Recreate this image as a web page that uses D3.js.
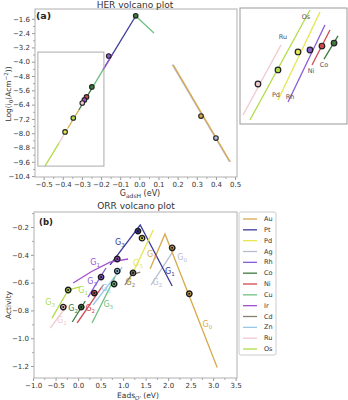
<!DOCTYPE html>
<html><head><meta charset="utf-8">
<script src="https://cdn.jsdelivr.net/npm/d3@7"></script>
<style>body{margin:0;background:#fff} text{font-family:"DejaVu Sans",sans-serif}</style>
</head><body><svg id="c" width="348" height="400"></svg>
<script>
// ---------- data ----------
const metals = ["Au","Pt","Pd","Ag","Rh","Co","Ni","Cu","Ir","Cd","Zn","Ru","Os"];
const metalColors = ["#d8a84b","#3a3a99","#e6e650","#b8bcd0","#8a5cd8","#3c7a3c","#d04850","#70c080","#a050d0","#8a8070","#9cc8e8","#f0c8d0","#b0dc48"];

const herXTicks = [-0.5,-0.4,-0.3,-0.2,-0.1,0.0,0.1,0.2,0.3,0.4,0.5];
const herYTicks = [-1.6,-2.4,-3.2,-4.0,-4.8,-5.6,-6.4,-7.2,-8.0,-8.8,-9.6,-10.4];
const orrXTicks = [-1.0,-0.5,0.0,0.5,1.0,1.5,2.0,2.5,3.0,3.5];
const orrYTicks = [-0.2,-0.4,-0.6,-0.8,-1.0,-1.2];

// HER volcano segments (G_adsH, log i0)
const herLines = [
  {m:"Os", pts:[[-0.493,-9.84],[-0.420,-8.55]]},
  {m:"Ru", pts:[[-0.420,-8.55],[-0.395,-8.10]]},
  {m:"Pd", pts:[[-0.395,-8.10],[-0.373,-7.71]]},
  {m:"Au", pts:[[-0.373,-7.71],[-0.316,-6.70]]},
  {m:"Co", pts:[[-0.316,-6.70],[-0.243,-5.41]]},
  {m:"Cu", pts:[[-0.243,-5.41],[-0.190,-4.46]]},
  {m:"Pt", pts:[[-0.190,-4.46],[-0.019,-1.44]]},
  {m:"Ir", pts:[[-0.185,-4.38],[-0.140,-3.58]]},
  {m:"Cu", pts:[[-0.019,-1.44],[0.076,-2.39]]},
  {m:"Ag", pts:[[0.172,-4.16],[0.470,-9.58]]},
  {m:"Au", pts:[[0.177,-4.18],[0.475,-9.61]]}
];
const herPoints = [
  {m:"Co", x:-0.019, y:-1.43},
  {m:"Rh", x:-0.160, y:-3.68},
  {m:"Co", x:-0.248, y:-5.41},
  {m:"Ni", x:-0.276, y:-5.97},
  {m:"Ir", x:-0.287, y:-6.14},
  {m:"Ru", x:-0.298, y:-6.31},
  {m:"Os", x:-0.345, y:-7.15},
  {m:"Pd", x:-0.388, y:-7.93},
  {m:"Au", x:0.322, y:-7.04},
  {m:"Ag", x:0.400, y:-8.27}
];
const herZoomBox = {x0:-0.53, x1:-0.185, y0:-9.84, y1:-3.46};

// Inset (zoomed view, inset units 0-100)
const insetLines = [
  {m:"Ru", pts:[[2.8,7.8],[38.3,68.1]]},
  {m:"Os", pts:[[9.3,3.4],[65.4,98.3]]},
  {m:"Pd", pts:[[35.5,20.7],[74.8,96.6]]},
  {m:"Rh", pts:[[44.9,19.0],[79.4,85.3]]},
  {m:"Ni", pts:[[67.3,50.9],[84.1,81.0]]},
  {m:"Co", pts:[[78.5,56.0],[91.6,75.9]]}
];
const insetPoints = [
  {m:"Ru", x:16.8, y:34.5}, {m:"Os", x:35.5, y:46.6}, {m:"Pd", x:54.2, y:62.1},
  {m:"Rh", x:65.4, y:63.8}, {m:"Ni", x:76.6, y:67.2}, {m:"Co", x:87.9, y:69.8}
];
const insetLabels = [
  {t:"Ru", x:40.2, y:75}, {t:"Os", x:61.7, y:92.2}, {t:"Pd", x:33.6, y:25},
  {t:"Rh", x:46.7, y:23.3}, {t:"Ni", x:66.4, y:45.7}, {t:"Co", x:78.5, y:50.9}
];

// ORR volcano (Eads, activity)
const orrLines = [
  {m:"Ag", pts:[[1.62,-0.617],[2.16,-0.35]]},
  {m:"Au", pts:[[1.6,-0.50],[1.93,-0.25],[3.09,-1.21]]},
  {m:"Pt", pts:[[0.71,-0.473],[1.38,-0.186],[2.09,-0.624]]},
  {m:"Pd", pts:[[1.11,-0.603],[1.67,-0.222]]},
  {m:"Ir", pts:[[-0.11,-0.603],[0.30,-0.52],[0.71,-0.452],[1.11,-0.430]]},
  {m:"Rh", pts:[[0.22,-0.704],[0.62,-0.495]]},
  {m:"Zn", pts:[[0.33,-0.761],[0.98,-0.488]]},
  {m:"Cu", pts:[[0.31,-0.89],[0.82,-0.56]]},
  {m:"Cd", pts:[[1.04,-0.617],[1.18,-0.545],[1.38,-0.524]]},
  {m:"Ni", pts:[[-0.02,-0.89],[0.56,-0.617]]},
  {m:"Co", pts:[[-0.13,-0.883],[0.16,-0.732]]},
  {m:"Os", pts:[[-0.58,-0.855],[-0.22,-0.653],[0.04,-0.63]]},
  {m:"Ru", pts:[[-0.62,-0.927],[-0.24,-0.761]]}
];
const orrPoints = [
  {m:"Pt", x:1.33, y:-0.229}, {m:"Pd", x:1.42, y:-0.28}, {m:"Au", x:2.09, y:-0.35},
  {m:"Au", x:2.47, y:-0.68}, {m:"Ir", x:0.87, y:-0.43}, {m:"Rh", x:0.51, y:-0.56},
  {m:"Zn", x:0.87, y:-0.517}, {m:"Cu", x:0.80, y:-0.61}, {m:"Cd", x:1.22, y:-0.53},
  {m:"Ni", x:0.36, y:-0.675}, {m:"Co", x:0.07, y:-0.776}, {m:"Os", x:-0.22, y:-0.653},
  {m:"Ru", x:-0.33, y:-0.776}
];
const orrLabels = [
  {m:"Pt", s:"3", x:0.93, y:-0.315}, {m:"Pt", s:"1", x:2.04, y:-0.524},
  {m:"Au", s:"3", x:1.64, y:-0.40}, {m:"Au", s:"0", x:2.87, y:-0.905},
  {m:"Ag", s:"2", x:1.76, y:-0.60}, {m:"Ag", s:"0", x:2.31, y:-0.423},
  {m:"Pd", s:"3", x:1.33, y:-0.46}, {m:"Ir", s:"1", x:0.38, y:-0.459},
  {m:"Rh", s:"3", x:0.31, y:-0.596}, {m:"Zn", s:"3", x:0.62, y:-0.64},
  {m:"Cu", s:"3", x:0.67, y:-0.76}, {m:"Cd", s:"2", x:1.16, y:-0.603},
  {m:"Ni", s:"2", x:0.27, y:-0.79}, {m:"Co", s:"2", x:-0.11, y:-0.79},
  {m:"Os", s:"3", x:-0.62, y:-0.747}, {m:"Os", s:"1", x:0.11, y:-0.66},
  {m:"Ru", s:"1", x:-0.36, y:-0.87}
];

// ---------- drawing ----------
const svg = d3.select("#c");
const color = d3.scaleOrdinal().domain(metals).range(metalColors);
const fmt = d => d3.format(".1f")(d).replace("-", "\u2212");
const frameCol = "#b0b0b0", tickCol = "#999", txtCol = "#333";

function styleAxis(g){
  g.select(".domain").remove();
  g.selectAll(".tick line").attr("stroke", tickCol);
  g.selectAll(".tick text").attr("fill", txtCol).attr("font-size", 7).attr("font-family","DejaVu Sans");
}

function panel(x, y, xt, yt, xminor, yminor){
  const [x0,x1] = x.range(), [y0,y1] = y.range();
  svg.append("g").attr("transform",`translate(0,${y0})`)
    .call(d3.axisBottom(x).tickValues(xt).tickSize(3).tickPadding(2).tickFormat(fmt)).call(styleAxis);
  svg.append("g").attr("transform",`translate(${x0},0)`)
    .call(d3.axisLeft(y).tickValues(yt).tickSize(3).tickPadding(2).tickFormat(fmt)).call(styleAxis);
  svg.append("g").attr("transform",`translate(0,${y0})`)
    .call(d3.axisBottom(x).tickValues(xminor).tickSize(1.8).tickFormat("")).call(styleAxis);
  svg.append("g").attr("transform",`translate(${x0},0)`)
    .call(d3.axisLeft(y).tickValues(yminor).tickSize(1.8).tickFormat("")).call(styleAxis);
  svg.append("rect").attr("x",x0).attr("y",y1).attr("width",x1-x0).attr("height",y0-y1)
    .attr("fill","none").attr("stroke",frameCol).attr("stroke-width",1);
}

// ===== Panel (a) =====
const hx = d3.scaleLinear().domain([-0.545,0.51]).range([35,237]);
const hy = d3.scaleLinear().domain([-10.45,-1.05]).range([177,9]);
panel(hx, hy, herXTicks, herYTicks,
  herXTicks.slice(0,-1).map(d=>+(d+0.05).toFixed(2)),
  herYTicks.slice(0,-1).map(d=>+(d-0.4).toFixed(2)));

const hLine = d3.line().x(d=>hx(d[0])).y(d=>hy(d[1]));
svg.append("g").selectAll("path").data(herLines).join("path")
  .attr("d", d=>hLine(d.pts)).attr("fill","none").attr("stroke", d=>color(d.m))
  .attr("stroke-width",1.3);
svg.append("rect").attr("x",hx(herZoomBox.x0)).attr("y",hy(herZoomBox.y1))
  .attr("width",hx(herZoomBox.x1)-hx(herZoomBox.x0)).attr("height",hy(herZoomBox.y0)-hy(herZoomBox.y1))
  .attr("fill","none").attr("stroke","#aaa").attr("stroke-width",1);
svg.append("g").selectAll("circle").data(herPoints).join("circle")
  .attr("cx", d=>hx(d.x)).attr("cy", d=>hy(d.y)).attr("r",2.3)
  .attr("fill", d=>color(d.m)).attr("stroke","#222").attr("stroke-width",1.1);

svg.append("text").attr("x",36).attr("y",19).attr("font-size",9.5).attr("font-weight","bold").attr("fill","#222").text("(a)");
svg.append("text").attr("x",135).attr("y",8).attr("text-anchor","middle").attr("font-size",9).attr("fill",txtCol).text("HER volcano plot");
{
  const t = svg.append("text").attr("x",140).attr("y",196).attr("text-anchor","middle").attr("font-size",8).attr("fill",txtCol);
  t.append("tspan").text("G");
  t.append("tspan").attr("dy",2).attr("font-size",6).text("adsH");
  t.append("tspan").attr("dy",-2).text(" (eV)");
  const u = svg.append("text").attr("transform","translate(11,94) rotate(-90)").attr("text-anchor","middle").attr("font-size",7.5).attr("fill",txtCol);
  u.append("tspan").text("Log(i");
  u.append("tspan").attr("dy",2).attr("font-size",5.5).text("0");
  u.append("tspan").attr("dy",-2).text("(Acm");
  u.append("tspan").attr("dy",-3).attr("font-size",5.5).text("\u22122");
  u.append("tspan").attr("dy",3).text("))");
}

// Inset
const ix = d3.scaleLinear().domain([0,100]).range([240,347]);
const iy = d3.scaleLinear().domain([0,100]).range([124,8]);
svg.append("rect").attr("x",240).attr("y",8).attr("width",107).attr("height",116)
  .attr("fill","#fff").attr("stroke","#999").attr("stroke-width",1);
const iLine = d3.line().x(d=>ix(d[0])).y(d=>iy(d[1]));
svg.append("g").selectAll("path").data(insetLines).join("path")
  .attr("d", d=>iLine(d.pts)).attr("fill","none").attr("stroke", d=>color(d.m)).attr("stroke-width",1.3);
svg.append("g").selectAll("circle").data(insetPoints).join("circle")
  .attr("cx", d=>ix(d.x)).attr("cy", d=>iy(d.y)).attr("r",2.8)
  .attr("fill", d=>color(d.m)).attr("stroke","#222").attr("stroke-width",1.2);
svg.append("g").selectAll("text").data(insetLabels).join("text")
  .attr("x", d=>ix(d.x)).attr("y", d=>iy(d.y)).attr("text-anchor","middle").attr("dy","0.35em")
  .attr("font-size",6.5).attr("fill","#555").text(d=>d.t);

// ===== Panel (b) =====
const ox = d3.scaleLinear().domain([-0.98,3.53]).range([34,237]);
const oy = d3.scaleLinear().domain([-1.286,-0.092]).range([378,212]);
panel(ox, oy, orrXTicks, orrYTicks,
  orrXTicks.slice(0,-1).map(d=>+(d+0.25).toFixed(2)),
  [-0.1,-0.3,-0.5,-0.7,-0.9,-1.1]);

const oLine = d3.line().x(d=>ox(d[0])).y(d=>oy(d[1]));
svg.append("g").selectAll("path").data(orrLines).join("path")
  .attr("d", d=>oLine(d.pts)).attr("fill","none").attr("stroke", d=>color(d.m)).attr("stroke-width",1.3);
const op = svg.append("g").selectAll("g").data(orrPoints).join("g")
  .attr("transform", d=>`translate(${ox(d.x)},${oy(d.y)})`);
op.append("circle").attr("r",2.7).attr("fill", d=>color(d.m)).attr("stroke","#1a1a1a").attr("stroke-width",1.4);
op.append("circle").attr("r",1.1).attr("fill","#1a1a1a");
const lab = svg.append("g").selectAll("text").data(orrLabels).join("text")
  .attr("x", d=>ox(d.x)).attr("y", d=>oy(d.y)).attr("text-anchor","middle").attr("dy","0.3em")
  .attr("font-size",8).attr("fill", d=>color(d.m));
lab.append("tspan").text("G");
lab.append("tspan").attr("dy",2).attr("font-size",5.5).text(d=>d.s);

svg.append("text").attr("x",39).attr("y",225).attr("font-size",8.5).attr("font-weight","bold").attr("fill","#222").text("(b)");
svg.append("text").attr("x",136).attr("y",209).attr("text-anchor","middle").attr("font-size",9).attr("fill",txtCol).text("ORR volcano plot");
{
  const t = svg.append("text").attr("x",138).attr("y",398).attr("text-anchor","middle").attr("font-size",7.5).attr("fill",txtCol);
  t.append("tspan").text("Eads");
  t.append("tspan").attr("dy",2).attr("font-size",5.5).attr("font-style","italic").text("O'");
  t.append("tspan").attr("dy",-2).text(" (eV)");
  svg.append("text").attr("transform","translate(11,305) rotate(-90)").attr("text-anchor","middle")
    .attr("font-size",7.5).attr("fill",txtCol).text("Activity");
}

// Legend
svg.append("rect").attr("x",239).attr("y",212).attr("width",37).attr("height",143)
  .attr("rx",2).attr("fill","#fff").attr("stroke","#ccc");
const ly = d3.scalePoint().domain(metals).range([219,349]);
const leg = svg.append("g").selectAll("g").data(metals).join("g")
  .attr("transform", d=>`translate(0,${ly(d)})`);
leg.append("line").attr("x1",243).attr("x2",257).attr("stroke", d=>color(d)).attr("stroke-width",1.3);
leg.append("text").attr("x",264).attr("dy","0.33em").attr("font-size",6.5).attr("fill",txtCol).text(d=>d);
</script></body></html>
